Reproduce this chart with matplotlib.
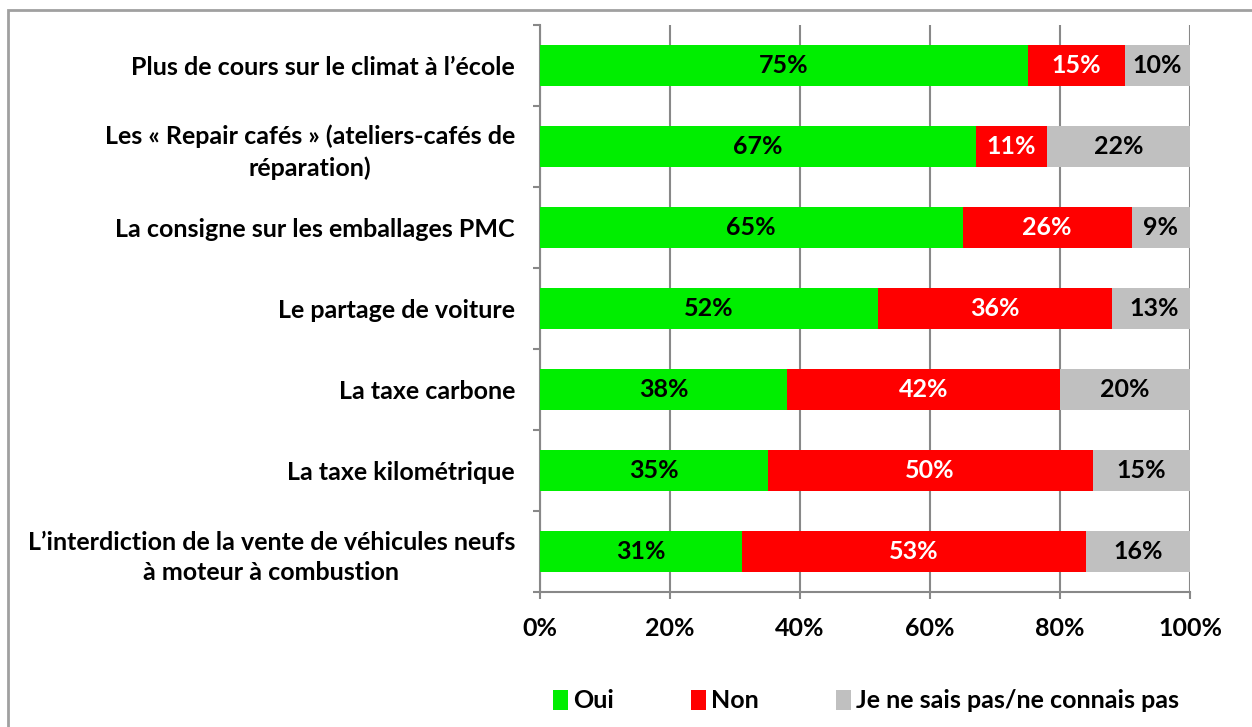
import numpy as np
import matplotlib.pyplot as plt
from matplotlib.patches import Rectangle, Patch

# donnees
categories = [
    "Plus de cours sur le climat à l\u2019école",
    "Les « Repair cafés » (ateliers-cafés de\nréparation)",
    "La consigne sur les emballages PMC",
    "Le partage de voiture",
    "La taxe carbone",
    "La taxe kilométrique",
    "L\u2019interdiction de la vente de véhicules neufs\nà moteur à combustion",
]
oui = [75, 67, 65, 52, 38, 35, 31]
non = [15, 11, 26, 36, 42, 50, 53]
nsp = [10, 22, 9, 13, 20, 15, 16]
series_names = ["Oui", "Non", "Je ne sais pas/ne connais pas"]
colors = ["#00ee00", "#ff0000", "#c0c0c0"]
text_colors = ["black", "white", "black"]
xticks = [0, 20, 40, 60, 80, 100]

plt.rcParams['font.family'] = ['Lato', 'DejaVu Sans']
plt.rcParams['font.weight'] = 'bold'
fs = 18

fig = plt.figure(figsize=(12.52, 7.27), dpi=100)
ax = fig.add_axes([540/1252, 1 - 592/727, 650/1252, (592 - 25)/727])

# cadre autour du graphique
fig.patches.append(Rectangle((8/1252, -0.05), 1.2, 1 - 10/727 + 0.05,
                             transform=fig.transFigure, fill=False,
                             edgecolor="#a0a0a0", linewidth=2))

y = np.arange(len(categories))
left = np.zeros(len(categories))
for vals, col, tcol in zip([oui, non, nsp], colors, text_colors):
    ax.barh(y, vals, left=left, height=0.5, color=col, zorder=3)
    for yi, l, v in zip(y, left, vals):
        ax.text(l + v/2, yi, f"{v}%", ha='center', va='center',
                color=tcol, fontsize=fs, fontweight='bold', zorder=4)
    left += np.array(vals)

ax.set_xlim(0, 100)
ax.set_ylim(len(categories) - 0.5, -0.5)
ax.set_xticks(xticks)
ax.set_xticklabels([f"{t}%" for t in xticks], fontsize=fs)
ax.set_yticks(y)
ax.set_yticklabels(categories, fontsize=fs, multialignment='center',
                   linespacing=1.38)
ax.set_yticks(np.arange(len(categories) + 1) - 0.5, minor=True)
ax.tick_params(axis='y', which='major', length=0, pad=18)
ax.tick_params(axis='y', which='minor', length=5, color='#888888', width=1.5)
ax.tick_params(axis='x', length=5, color='#888888', width=1.5, pad=13)
ax.grid(axis='x', color='#888888', linewidth=1.5, zorder=0)
ax.set_axisbelow(True)
for s in ['top', 'right']:
    ax.spines[s].set_visible(False)
for s in ['left', 'bottom']:
    ax.spines[s].set_color('#888888')
    ax.spines[s].set_linewidth(1.5)

handles = [Patch(facecolor=c, edgecolor='none') for c in colors]
fig.legend(handles, series_names, loc='center', ncol=3, frameon=False,
           bbox_to_anchor=(866/1252, 1 - 701/727), fontsize=fs,
           handlelength=0.6, handleheight=0.9, handletextpad=0.2,
           columnspacing=3.1)

fig.savefig("out.png", dpi=100)
